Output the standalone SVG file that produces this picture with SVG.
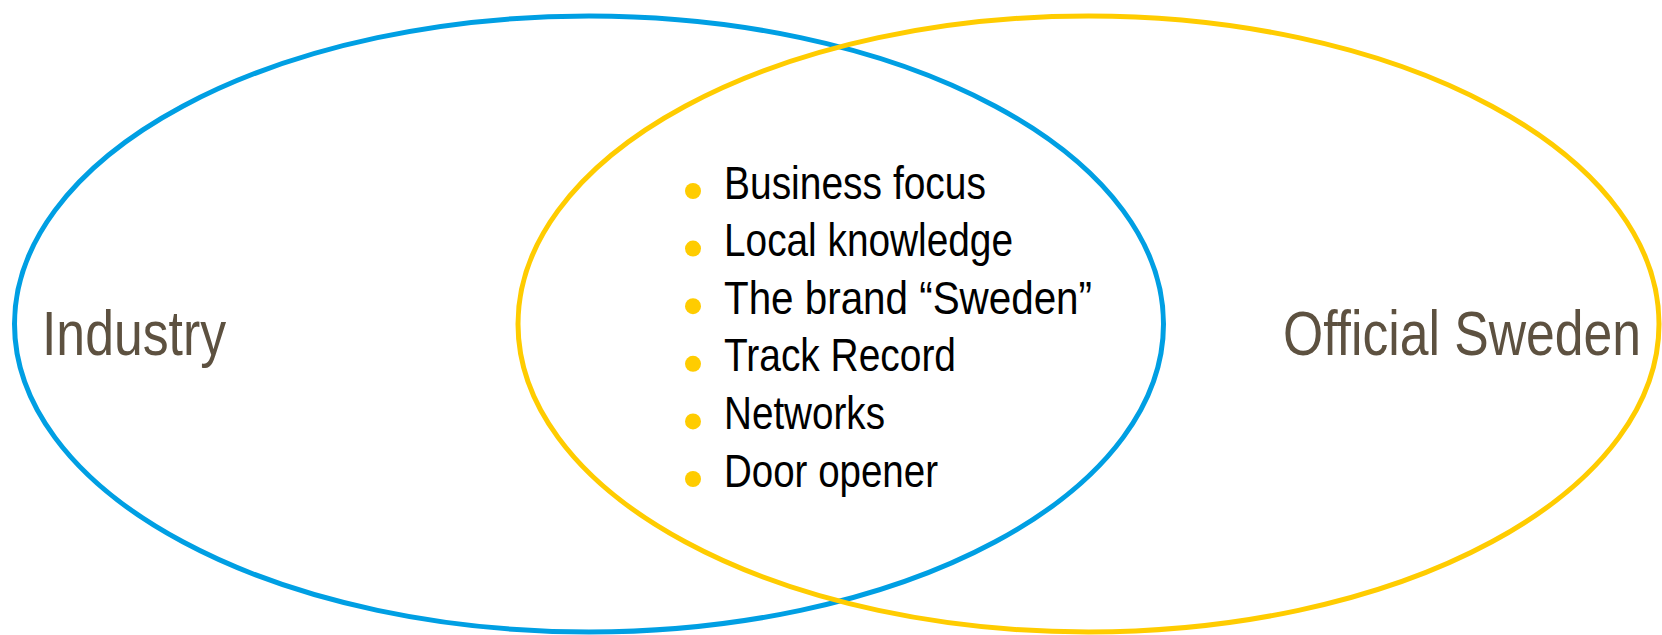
<svg xmlns="http://www.w3.org/2000/svg" width="1662" height="635" viewBox="0 0 1662 635">
<style>
.ring{fill:none;stroke-width:5}
.blue{stroke:#009FE3}
.yellow{stroke:#FFCC00}
.label{font-family:"Liberation Sans Narrow","Liberation Sans",Arial,sans-serif;font-size:63px;fill:#5D5140}
.item{font-family:"Liberation Sans Narrow","Liberation Sans",Arial,sans-serif;font-size:46px;fill:#000000}
.dot{fill:#FFCC00}
</style>
<rect width="1662" height="635" fill="#FFFFFF"/>
<g id="industry">
<ellipse class="ring blue" cx="589" cy="324" rx="574.5" ry="308"/>
<text class="label" x="42" y="355" textLength="184" lengthAdjust="spacingAndGlyphs">Industry</text>
</g>
<g id="official-sweden">
<ellipse class="ring yellow" cx="1088.5" cy="324" rx="570.5" ry="308"/>
<text class="label" x="1283" y="355" textLength="358" lengthAdjust="spacingAndGlyphs">Official Sweden</text>
</g>
<g id="overlap">
<circle class="dot" cx="693" cy="191" r="8"/>
<text class="item" x="724" y="198.5" textLength="262" lengthAdjust="spacingAndGlyphs">Business focus</text>
<circle class="dot" cx="693" cy="248.6" r="8"/>
<text class="item" x="724" y="256.1" textLength="289" lengthAdjust="spacingAndGlyphs">Local knowledge</text>
<circle class="dot" cx="693" cy="306.2" r="8"/>
<text class="item" x="724" y="313.7" textLength="368" lengthAdjust="spacingAndGlyphs">The brand “Sweden”</text>
<circle class="dot" cx="693" cy="363.8" r="8"/>
<text class="item" x="724" y="371.3" textLength="232" lengthAdjust="spacingAndGlyphs">Track Record</text>
<circle class="dot" cx="693" cy="421.4" r="8"/>
<text class="item" x="724" y="428.9" textLength="161" lengthAdjust="spacingAndGlyphs">Networks</text>
<circle class="dot" cx="693" cy="479" r="8"/>
<text class="item" x="724" y="486.5" textLength="214" lengthAdjust="spacingAndGlyphs">Door opener</text>
</g>
<g id="connectors"></g>
</svg>
